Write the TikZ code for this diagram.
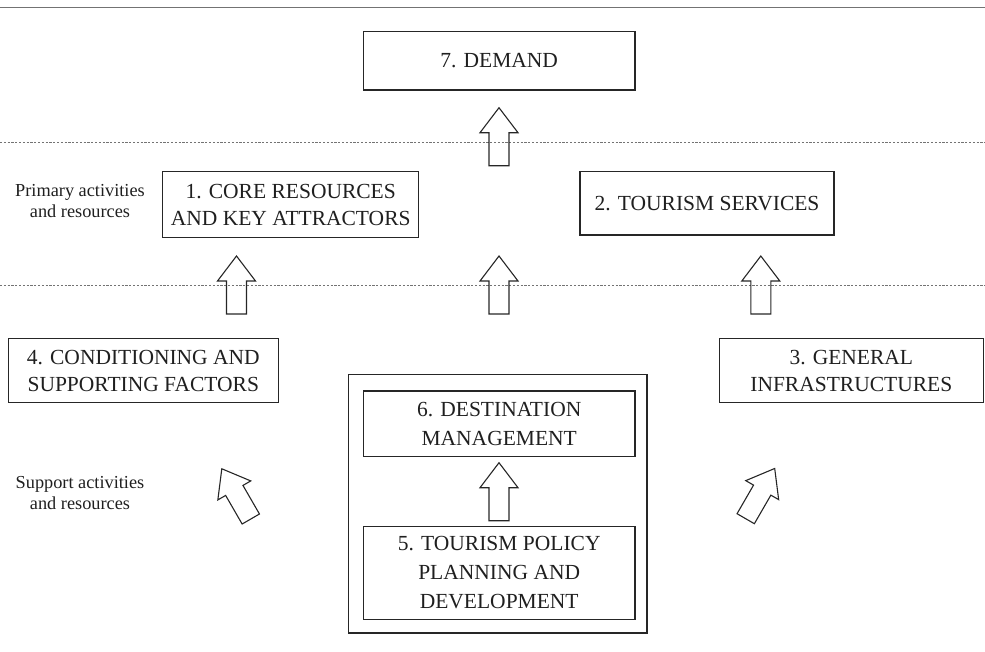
\documentclass[tikz,border=0pt]{standalone}
\usepackage{fontspec}
\setmainfont{Liberation Serif}
\begin{document}
\begin{tikzpicture}[x=1pt,y=-1pt,
  box/.style={draw=black!85, line width=1.2pt, rectangle, inner sep=0pt, align=center,
    text=black!88, font=\fontsize{21.5}{27}\selectfont},
  tallbox/.style={box, font=\fontsize{21.5}{29}\selectfont},
  sidelabel/.style={align=center, inner sep=0pt, text=black!88, font=\fontsize{18.3}{21}\selectfont},
  arrowline/.style={draw=black!85, line width=1.1pt, line join=miter},
  sepline/.style={draw=black!55, line width=0.9pt, dash pattern=on 2.2pt off 1.6pt},
  barrow/.pic={\path[arrowline] (-10,0) -- (10,0) -- (10,-33) -- (19,-33) -- (0,-58) -- (-19,-33) -- (-10,-33) -- cycle;}
]
\useasboundingbox (0,0) rectangle (985,651);

% top rule and separators
\draw[draw=black!55, line width=1.5pt] (0,7.3) -- (985,7.3);
\path[sepline] (0,142.7) -- (985,142.7);
\path[sepline] (0,285) -- (985,285);

% boxes
\node[box, minimum width=271.7pt, minimum height=58.3pt] (dem) at (499.2,60.9) {7. DEMAND};
\node[box, minimum width=256pt, minimum height=65.6pt] (core) at (290.7,204.5) {1. CORE RESOURCES\\AND KEY ATTRACTORS};
\node[box, minimum width=254pt, minimum height=63.3pt] (serv) at (707,203.4) {2. TOURISM SERVICES};
\node[box, minimum width=270pt, minimum height=64.4pt] (cond) at (143.3,370.5) {4. CONDITIONING AND\\SUPPORTING FACTORS};
\node[box, minimum width=264pt, minimum height=64.4pt] (infra) at (851.3,370.5) {3. GENERAL\\INFRASTRUCTURES};
\node[box, minimum width=298.7pt, minimum height=258.7pt] (outer) at (497.7,503.7) {};
\node[tallbox, minimum width=271.7pt, minimum height=65.7pt] (dest) at (499.2,423.9) {6. DESTINATION\\MANAGEMENT};
\node[tallbox, minimum width=271.7pt, minimum height=92.6pt] (pol) at (499.2,573) {5. TOURISM POLICY\\PLANNING AND\\DEVELOPMENT};

% side labels
\node[sidelabel] (prim) at (80,201) {Primary activities\\and resources};
\node[sidelabel] (supp) at (80,493) {Support activities\\and resources};

% block arrows
\pic at (499,165.7) {barrow};
\pic at (236.5,314) {barrow};
\pic at (499,314) {barrow};
\pic at (760.8,314) {barrow};
\pic at (499,520.7) {barrow};
\pic[rotate=30] at (250.8,519) {barrow};
\pic[rotate=-30] at (745.7,518.7) {barrow};
\end{tikzpicture}
\end{document}
